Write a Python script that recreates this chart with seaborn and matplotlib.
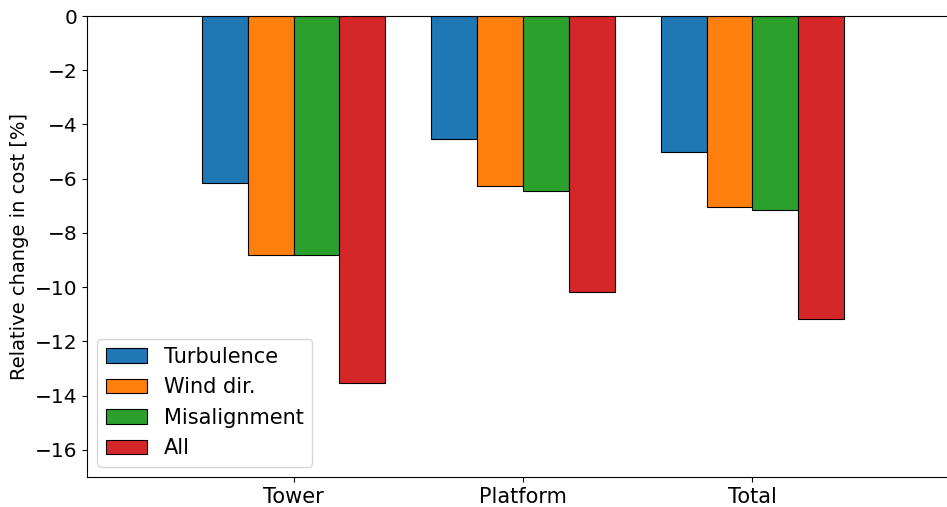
import matplotlib
matplotlib.use("Agg")
import matplotlib.pyplot as plt
import pandas as pd
import seaborn as sns

components = ["Tower", "Platform", "Total"]
sources = ["Turbulence", "Wind dir.", "Misalignment", "All"]
turbulence = [-6.17, -4.54, -5.03]
wind_dir = [-8.83, -6.28, -7.05]
misalignment = [-8.80, -6.46, -7.17]
all_sources = [-13.55, -10.16, -11.19]
colors = ["#1f77b4", "#ff7f0e", "#2ca02c", "#d62728"]
yticks = [0, -2, -4, -6, -8, -10, -12, -14, -16]

rows = []
for src, vals in zip(sources, [turbulence, wind_dir, misalignment, all_sources]):
    for comp, v in zip(components, vals):
        rows.append({"Component": comp, "Source": src, "Change": v})
df = pd.DataFrame(rows)

plt.rcParams["font.family"] = ["DejaVu Sans"]
plt.rcParams["font.size"] = 14

W, H = 947, 507
fig = plt.figure(figsize=(W / 100, H / 100), dpi=100)
ax = fig.add_axes([87 / W, 30 / H, (959 - 87) / W, (477 - 16) / H])

sns.barplot(data=df, x="Component", y="Change", hue="Source",
            hue_order=sources, order=components, palette=colors,
            saturation=1, width=0.8, edgecolor="black", linewidth=0.8,
            ax=ax)

ax.set_xlim(-0.9, 2.9)
ax.set_ylim(-17, 0)
ax.set_yticks(yticks)
ax.set_yticklabels([f"{t}".replace("-", "\u2212") for t in yticks])
ax.set_xlabel("")
ax.set_ylabel("Relative change in cost [%]", fontsize=14)
ax.tick_params(axis="y", labelsize=14.5)
ax.tick_params(axis="x", labelsize=15)
ax.legend(loc="lower left", fontsize=15, title=None)

fig.savefig("out.png", dpi=100)
